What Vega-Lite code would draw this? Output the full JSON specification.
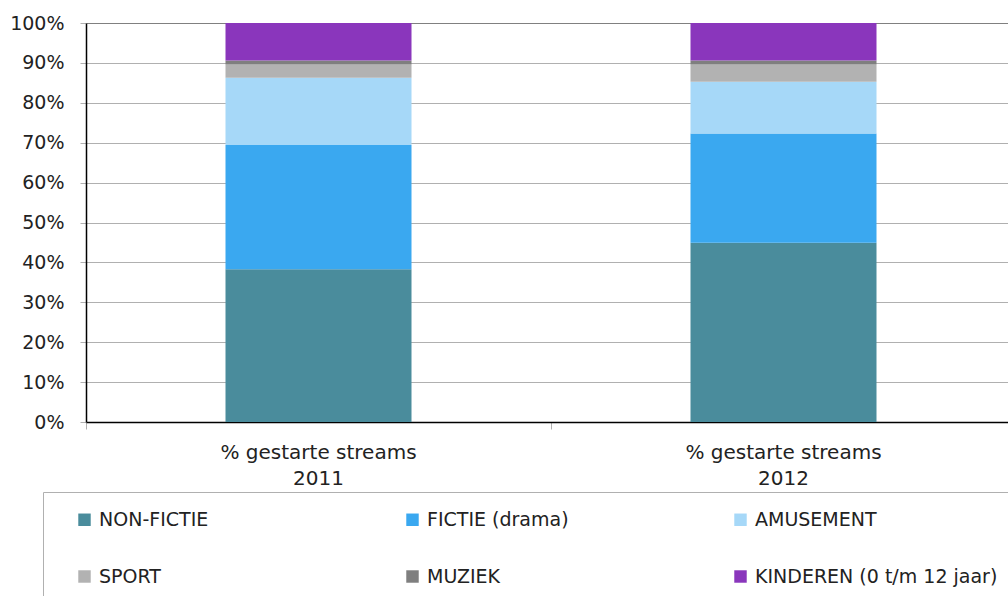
{
  "$schema": "https://vega.github.io/schema/vega-lite/v6.json",
  "autosize": {"type": "none"},
  "width": 930,
  "height": 399,
  "padding": {"left": 86, "top": 23, "right": 0, "bottom": 174},
  "background": "white",
  "config": {
    "view": {"stroke": null},
    "font": "DejaVu Sans",
    "axis": {"labelFont": "DejaVu Sans", "labelColor": "#222222"},
    "legend": {"labelFont": "DejaVu Sans"}
  },
  "data": {
    "values": [
      {"jaar": "% gestarte streams|2011", "genre": "NON-FICTIE", "volgorde": 1, "pct": 38.3},
      {"jaar": "% gestarte streams|2011", "genre": "FICTIE (drama)", "volgorde": 2, "pct": 31.1},
      {"jaar": "% gestarte streams|2011", "genre": "AMUSEMENT", "volgorde": 3, "pct": 16.9},
      {"jaar": "% gestarte streams|2011", "genre": "SPORT", "volgorde": 4, "pct": 3.3},
      {"jaar": "% gestarte streams|2011", "genre": "MUZIEK", "volgorde": 5, "pct": 1.0},
      {"jaar": "% gestarte streams|2011", "genre": "KINDEREN (0 t/m 12 jaar)", "volgorde": 6, "pct": 9.4},
      {"jaar": "% gestarte streams|2012", "genre": "NON-FICTIE", "volgorde": 1, "pct": 44.9},
      {"jaar": "% gestarte streams|2012", "genre": "FICTIE (drama)", "volgorde": 2, "pct": 27.4},
      {"jaar": "% gestarte streams|2012", "genre": "AMUSEMENT", "volgorde": 3, "pct": 13.0},
      {"jaar": "% gestarte streams|2012", "genre": "SPORT", "volgorde": 4, "pct": 4.3},
      {"jaar": "% gestarte streams|2012", "genre": "MUZIEK", "volgorde": 5, "pct": 1.0},
      {"jaar": "% gestarte streams|2012", "genre": "KINDEREN (0 t/m 12 jaar)", "volgorde": 6, "pct": 9.4}
    ]
  },
  "mark": {"type": "bar", "width": {"band": 0.4}},
  "encoding": {
    "x": {
      "field": "jaar",
      "type": "nominal",
      "scale": {"paddingInner": 0, "paddingOuter": 0},
      "axis": {
        "title": null,
        "labelAngle": 0,
        "labelExpr": "split(datum.label, '|')",
        "labelFontSize": 20,
        "labelLineHeight": 26,
        "labelPadding": 13,
        "labelLimit": 500,
        "bandPosition": 0,
        "ticks": true,
        "tickSize": 7,
        "tickColor": "#b0b0b0",
        "domainColor": "#000000",
        "domainWidth": 1.5,
        "grid": false
      }
    },
    "y": {
      "field": "pct",
      "type": "quantitative",
      "stack": "zero",
      "scale": {"domain": [0, 100], "nice": false},
      "axis": {
        "title": null,
        "values": [0, 10, 20, 30, 40, 50, 60, 70, 80, 90, 100],
        "labelExpr": "datum.value + '%'",
        "labelFontSize": 19,
        "labelPadding": 16,
        "tickSize": 6,
        "tickColor": "#b0b0b0",
        "domainColor": "#000000",
        "domainWidth": 1.5,
        "grid": true,
        "gridColor": {"condition": {"test": "datum.value === 100", "value": "#808080"}, "value": "#b0b0b0"},
        "gridWidth": 1
      }
    },
    "color": {
      "field": "genre",
      "type": "nominal",
      "scale": {
        "domain": ["NON-FICTIE", "FICTIE (drama)", "AMUSEMENT", "SPORT", "MUZIEK", "KINDEREN (0 t/m 12 jaar)"],
        "range": ["#4a8c9c", "#3aa8f0", "#a6d8f8", "#b2b2b2", "#7f7f7f", "#8a36bc"]
      },
      "legend": {
        "title": null,
        "orient": "none",
        "direction": "horizontal",
        "columns": 3,
        "gridAlign": "all",
        "legendX": -43,
        "legendY": 469,
        "padding": 18,
        "symbolOffset": 14,
        "strokeColor": "#b0b0b0",
        "symbolType": "square",
        "symbolSize": 155,
        "symbolStrokeWidth": 0,
        "labelFontSize": 19,
        "labelColor": "#222222",
        "labelOffset": 5,
        "labelLimit": 400,
        "columnPadding": 47,
        "rowPadding": 37
      }
    },
    "order": {"field": "volgorde", "type": "quantitative", "sort": "ascending"}
  }
}
